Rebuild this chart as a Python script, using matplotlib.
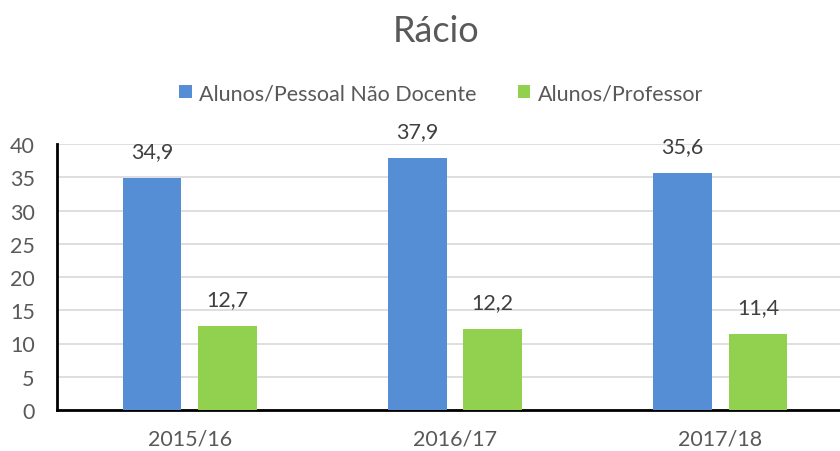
import matplotlib.pyplot as plt
import numpy as np

categories = ['2015/16', '2016/17', '2017/18']
pessoal = [34.9, 37.9, 35.6]
professor = [12.7, 12.2, 11.4]
series_names = ['Alunos/Pessoal Não Docente', 'Alunos/Professor']

blue = '#558ED5'
green = '#92D050'
grey = '#595959'

plt.rcParams['font.family'] = ['Lato', 'DejaVu Sans']

fig = plt.figure(figsize=(8.4, 4.52), dpi=100)
ax = fig.add_axes([57 / 840, 41 / 452, 796 / 840, 266 / 452])

x = np.arange(len(categories))
w = 0.222
off = 0.142
b1 = ax.bar(x - off, pessoal, w, color=blue, label=series_names[0], zorder=3)
b2 = ax.bar(x + off, professor, w, color=green, label=series_names[1], zorder=3)

for bars in (b1, b2):
    for r in bars:
        ax.annotate(f'{r.get_height():.1f}'.replace('.', ','),
                    (r.get_x() + r.get_width() / 2, r.get_height()),
                    xytext=(0, 12), textcoords='offset points',
                    ha='center', va='bottom', fontsize=15.5, color='#404040')

ax.set_xlim(-0.5, 2.5)
ax.set_ylim(0, 40)
ax.set_yticks(range(0, 41, 5))
ax.set_xticks(x)
ax.set_xticklabels(categories)
ax.tick_params(axis='both', length=0, labelsize=15.5, labelcolor=grey)
ax.tick_params(axis='x', pad=13)
ax.tick_params(axis='y', pad=16)
ax.grid(axis='y', color='#D9D9D9', linewidth=1.2, zorder=0)
for s in ['top', 'right']:
    ax.spines[s].set_visible(False)
for s in ['left', 'bottom']:
    ax.spines[s].set_color('black')
    ax.spines[s].set_linewidth(2)

fig.text(0.519, 0.93, 'Rácio', ha='center', va='center', fontsize=26, color=grey)
fig.legend(loc='center', bbox_to_anchor=(0.525, 0.792), ncol=2, frameon=False,
           fontsize=15.5, labelcolor=grey, handlelength=0.6, handleheight=0.6,
           handletextpad=0.35, columnspacing=1.9)

fig.savefig('out.png', dpi=100)
